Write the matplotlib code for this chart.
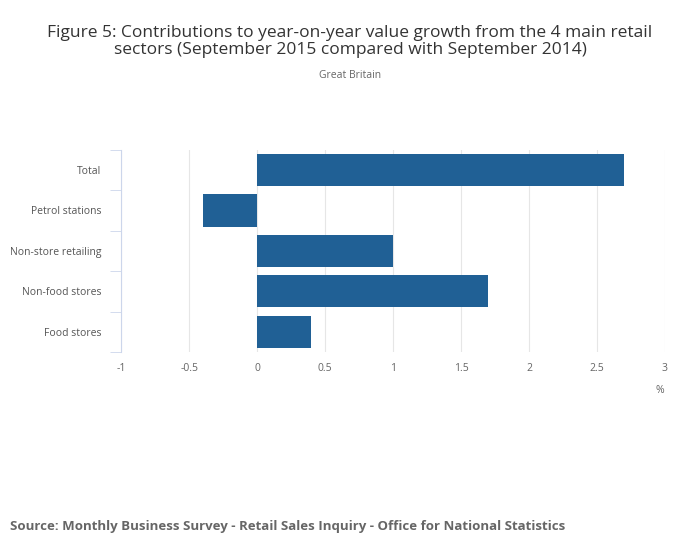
import matplotlib
matplotlib.use("Agg")
import matplotlib.pyplot as plt

plt.rcParams['font.family'] = ['Open Sans', 'DejaVu Sans']

categories = ["Total", "Petrol stations", "Non-store retailing", "Non-food stores", "Food stores"]
values = [2.7, -0.4, 1.0, 1.7, 0.4]
xticks = [-1, -0.5, 0, 0.5, 1, 1.5, 2, 2.5, 3]
xticklabels = ["-1", "-0.5", "0", "0.5", "1", "1.5", "2", "2.5", "3"]

fig = plt.figure(figsize=(7, 5.49), dpi=100)
ax = fig.add_axes([0.173, 0.359, 0.777, 0.368])

ypos = list(range(len(categories)))[::-1]
ax.barh(ypos, values, height=0.8, color="#206095", zorder=3)
ax.set_xlim(-1, 3)
ax.set_ylim(-0.5, len(categories) - 0.5)
ax.set_xticks(xticks)
ax.set_xticklabels(xticklabels, fontsize=7.5, color="#666666")
ax.set_yticks(ypos)
ax.set_yticklabels(categories, fontsize=7.5, color="#555555")
ax.set_yticks([i - 0.5 for i in range(len(categories) + 1)], minor=True)
ax.tick_params(axis='y', which='major', length=0, pad=14)
ax.tick_params(axis='y', which='minor', length=8, color="#ccd6eb")
ax.tick_params(axis='x', length=0, pad=8)
ax.grid(axis='x', color="#e6e6e6", linewidth=0.8, zorder=0)
for s in ["top", "right", "bottom"]:
    ax.spines[s].set_visible(False)
ax.spines["left"].set_color("#ccd6eb")

fig.text(0.943, 0.285, "%", fontsize=7.5, color="#666666", ha="center")
fig.text(0.5, 0.955, "Figure 5: Contributions to year-on-year value growth from the 4 main retail\nsectors (September 2015 compared with September 2014)",
         ha="center", va="top", fontsize=12.5, color="#333333", linespacing=1.1)
fig.text(0.5, 0.872, "Great Britain", ha="center", va="top", fontsize=7.5, color="#666666")
fig.text(0.014, 0.035, "Source: Monthly Business Survey - Retail Sales Inquiry - Office for National Statistics",
         fontsize=9.5, fontweight="bold", color="#666666")

fig.savefig("out.png", dpi=100)
